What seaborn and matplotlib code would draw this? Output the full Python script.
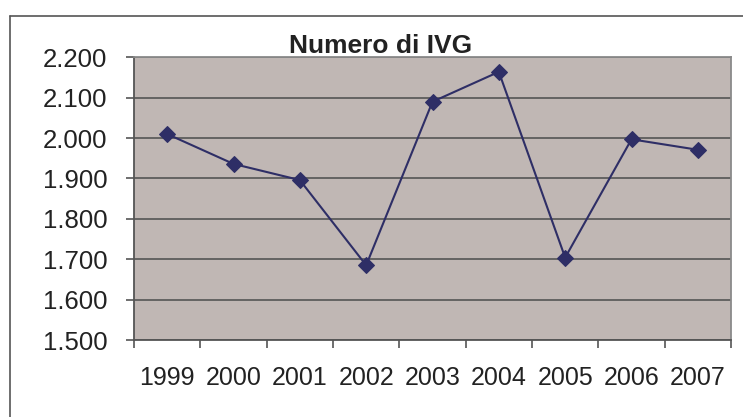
import matplotlib
matplotlib.use("Agg")
import matplotlib.pyplot as plt
from matplotlib.lines import Line2D
from matplotlib.ticker import FixedLocator, FuncFormatter
import seaborn as sns
import pandas as pd

years = ["1999", "2000", "2001", "2002", "2003", "2004", "2005", "2006", "2007"]
ivg = [2010, 1936, 1896, 1685, 2090, 2164, 1704, 1997, 1971]
y_ticks = [1500, 1600, 1700, 1800, 1900, 2000, 2100, 2200]
title = "Numero di IVG"

sns.set_theme(style="white")
plt.rcParams["font.family"] = ["Liberation Sans", "DejaVu Sans"]

df = pd.DataFrame({"anno": years, "ivg": ivg})

fig = plt.figure(figsize=(7.43, 4.17), dpi=100)
ax = fig.add_axes([134/743, 1-340/417, (731-134)/743, (340-57.3)/417])
ax.set_facecolor("#C0B7B4")

sns.lineplot(data=df, x="anno", y="ivg", ax=ax, color="#2E2E66", lw=1.5,
             marker="D", markersize=8, markeredgecolor="#2E2E66", sort=False)

ax.set_xlim(-0.5, len(years) - 0.5)
ax.set_ylim(y_ticks[0], y_ticks[-1])
ax.set_yticks(y_ticks)
ax.yaxis.set_major_formatter(FuncFormatter(lambda v, p: f"{int(v):,}".replace(",", ".")))
ax.grid(axis="y", color="#555555", lw=1.2)
ax.set_axisbelow(True)
ax.set_xlabel("")
ax.set_ylabel("")

ax.xaxis.set_minor_locator(FixedLocator([i - 0.5 for i in range(len(years) + 1)]))
ax.tick_params(axis="x", which="major", length=0, pad=19, labelsize=18, labelcolor="#222222")
ax.tick_params(axis="x", which="minor", length=6, width=1.2, color="#555555", direction="out", bottom=True)
ax.tick_params(axis="y", which="major", length=6, width=1.2, color="#555555", direction="out",
               left=True, pad=13, labelsize=18.5, labelcolor="#222222")

for s in ["left", "bottom"]:
    ax.spines[s].set_color("#555555")
    ax.spines[s].set_linewidth(1.3)
for s in ["top", "right"]:
    ax.spines[s].set_color("#8A8A8A")
    ax.spines[s].set_linewidth(1.3)

fig.text(381/743, 1-53/417, title, ha="center", va="baseline", fontsize=19,
         fontweight="bold", color="#222222")

fig.add_artist(Line2D([10/743, 10/743], [0, 1-16/417], color="#555555", lw=1.2, transform=fig.transFigure))
fig.add_artist(Line2D([10/743, 1], [1-16/417, 1-16/417], color="#555555", lw=1.2, transform=fig.transFigure))

fig.savefig("out.png", dpi=100)
